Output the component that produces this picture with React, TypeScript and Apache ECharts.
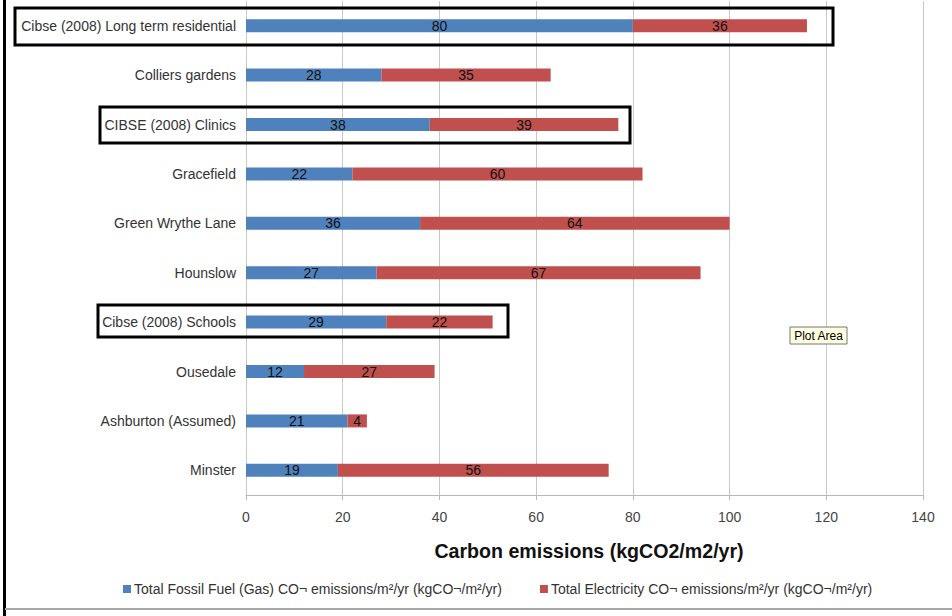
import React, { useEffect, useRef } from "react";
import * as echarts from "echarts";

// Sites / benchmarks, listed top to bottom
const categories = [
  "Cibse (2008) Long term residential",
  "Colliers gardens",
  "CIBSE (2008) Clinics",
  "Gracefield",
  "Green Wrythe Lane",
  "Hounslow",
  "Cibse (2008) Schools",
  "Ousedale",
  "Ashburton (Assumed)",
  "Minster",
];

// kgCO2/m2/yr
const gasValues = [80, 28, 38, 22, 36, 27, 29, 12, 21, 19];
const electricityValues = [36, 35, 39, 60, 64, 67, 22, 27, 4, 56];

const axisTicks = [0, 20, 40, 60, 80, 100, 120, 140];

const gasName = "Total Fossil Fuel (Gas) CO¬ emissions/m²/yr (kgCO¬/m²/yr)";
const elecName = "Total Electricity CO¬ emissions/m²/yr (kgCO¬/m²/yr)";
const axisTitle = "Carbon emissions (kgCO2/m2/yr)";

const FONT = "Liberation Sans, Arial, sans-serif";

export default function App() {
  const ref = useRef<HTMLDivElement>(null);

  useEffect(() => {
    if (!ref.current) return;
    const chart = echarts.init(ref.current, null, { renderer: "svg" });

    const labelStyle = {
      show: true,
      position: "inside" as const,
      color: "#111",
      fontSize: 14,
      fontFamily: FONT,
    };

    const highlight = (x: number, y: number, w: number, h: number) => ({
      type: "rect",
      shape: { x, y, width: w, height: h },
      style: { fill: "none", stroke: "#000", lineWidth: 3 },
      z: 100,
    });

    chart.setOption({
      animation: false,
      backgroundColor: "#fff",
      textStyle: { fontFamily: FONT },
      grid: { left: 246, right: 29, top: 1, bottom: 121 },
      legend: {
        left: 123,
        top: 582,
        padding: 0,
        icon: "rect",
        itemWidth: 8,
        itemHeight: 8,
        itemGap: 38,
        textStyle: { fontSize: 14, color: "#333", fontFamily: FONT, padding: [0, 0, 0, -2] },
        data: [gasName, elecName],
      },
      xAxis: {
        type: "value",
        min: axisTicks[0],
        max: axisTicks[axisTicks.length - 1],
        interval: 20,
        axisLine: { show: true, lineStyle: { color: "#b8b8b8", width: 1 } },
        axisTick: { show: true, length: 5, lineStyle: { color: "#b8b8b8" } },
        axisLabel: { color: "#444", fontSize: 14, margin: 15, fontFamily: FONT },
        splitLine: { show: true, lineStyle: { color: "#c8c8c8", width: 1 } },
        name: axisTitle,
        nameLocation: "middle",
        nameGap: 46,
        nameTextStyle: {
          fontSize: 19.6,
          fontWeight: "bold",
          color: "#111",
          fontFamily: FONT,
          padding: [0, 0, 0, 9],
        },
      },
      yAxis: {
        type: "category",
        data: categories,
        inverse: true,
        axisLine: { show: false },
        axisTick: { show: false },
        axisLabel: { color: "#333", fontSize: 14, margin: 10, fontFamily: FONT },
        splitLine: { show: false },
      },
      series: [
        {
          name: gasName,
          type: "bar",
          stack: "total",
          barWidth: 13,
          data: gasValues,
          itemStyle: { color: "#4F81BD" },
          label: labelStyle,
        },
        {
          name: elecName,
          type: "bar",
          stack: "total",
          barWidth: 13,
          data: electricityValues,
          itemStyle: { color: "#C0504D" },
          label: labelStyle,
        },
      ],
      graphic: [
        // page frame: heavy left edge, light bottom rule
        {
          type: "rect",
          shape: { x: 3, y: 0, width: 3, height: 616 },
          style: { fill: "#000" },
          z: 100,
        },
        {
          type: "line",
          shape: { x1: 5, y1: 609, x2: 952, y2: 609 },
          style: { stroke: "#a8a8a8", lineWidth: 2 },
          z: 100,
        },
        // boxed CIBSE benchmark rows
        highlight(15, 8, 818, 37),
        highlight(100, 107, 530, 36),
        highlight(98, 305, 410, 32),
        // hover hint
        {
          type: "rect",
          shape: { x: 790, y: 327, width: 57, height: 17 },
          style: { fill: "#ffffe1", stroke: "#767676", lineWidth: 1 },
          z: 110,
        },
        {
          type: "text",
          x: 818.5,
          y: 335.5,
          style: {
            text: "Plot Area",
            fontSize: 12,
            fontFamily: FONT,
            fill: "#000",
            align: "center",
            verticalAlign: "middle",
          },
          z: 111,
        },
      ],
    });

    return () => chart.dispose();
  }, []);

  return (
    <div
      ref={ref}
      style={{ position: "fixed", left: 0, top: 0, width: 952, height: 616 }}
    />
  );
}
